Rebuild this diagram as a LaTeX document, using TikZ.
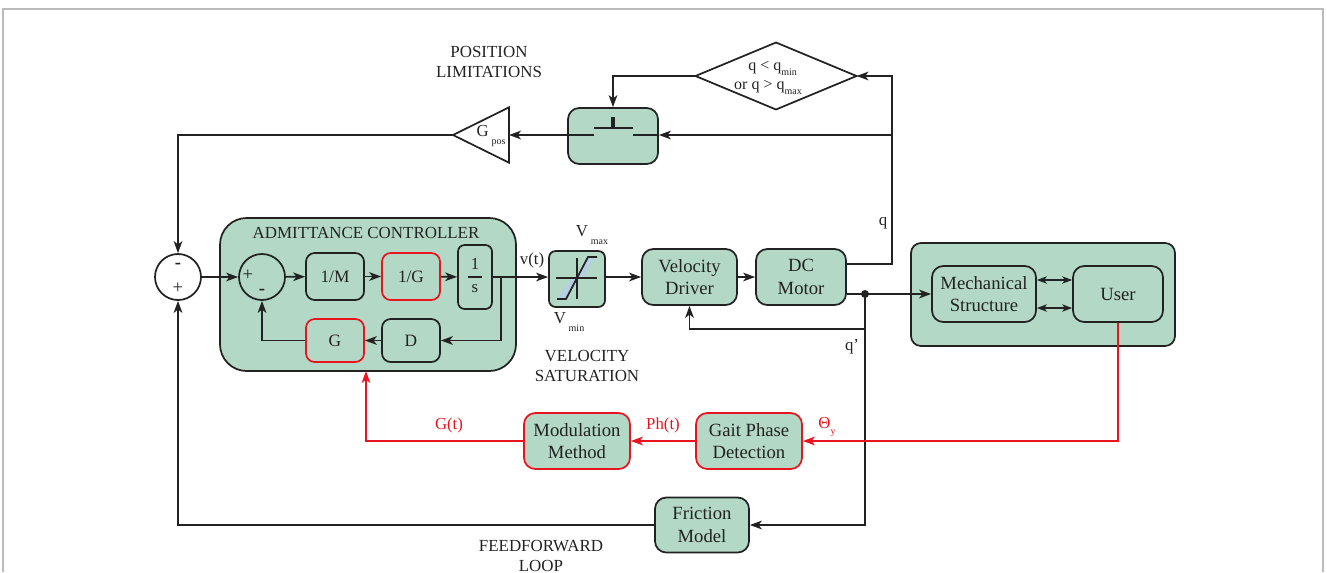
\documentclass[tikz,border=0pt]{standalone}
\usepackage{fontspec}
\setmainfont{Liberation Serif}
\usetikzlibrary{arrows.meta, positioning, shapes.geometric, calc}
\definecolor{boxgreen}{HTML}{B3D9C6}
\definecolor{inkgray}{HTML}{222222}
\definecolor{gatered}{HTML}{E8141F}
\definecolor{framegray}{HTML}{BBBBBB}
\definecolor{rampblue}{HTML}{B5CFE3}
\newcommand{\lowtext}[1]{\raisebox{-.7ex}{\fontsize{7.5}{8}\selectfont #1}}
\newcommand{\lowertext}[1]{\,\raisebox{-1.1ex}{\fontsize{7.5}{8}\selectfont #1}}

\begin{document}
\begin{tikzpicture}[
    x=0.75pt, y=-0.75pt,
    every node/.style={text=inkgray, font=\fontsize{12.6}{15}\selectfont},
    block/.style={rectangle, draw=inkgray, fill=boxgreen, line width=1.3pt, rounded corners=8.5pt, align=center, inner sep=0pt, font=\fontsize{14}{17}\selectfont},
    smallblock/.style={block, rounded corners=6.5pt, font=\fontsize{13}{15}\selectfont},
    redblock/.style={block, draw=gatered},
    sumnode/.style={circle, draw=inkgray, line width=1.3pt, minimum size=34.5pt, inner sep=0pt},
    signnode/.style={font=\fontsize{14}{15}\selectfont, inner sep=0pt},
    conn/.style={draw=inkgray, line width=1.3pt, -{Stealth[length=9pt, width=6.5pt, inset=2.5pt]}},
    plain/.style={draw=inkgray, line width=1.3pt},
    twoway/.style={draw=inkgray, line width=1pt, {Stealth[length=7.5pt, width=5.5pt, inset=2pt]}-{Stealth[length=7.5pt, width=5.5pt, inset=2pt]}},
    redconn/.style={conn, draw=gatered, color=gatered},
    redlabel/.style={text=gatered},
    caption/.style={align=center, font=\fontsize{12.7}{15.4}\selectfont}
]
    \useasboundingbox (0,0) rectangle (1327,572);
    % page frame
    \draw[framegray, line width=0.9pt] (3,572) -- (3,9) -- (1323,9) -- (1323,572);

    % admittance controller
    \node[block, rounded corners=20pt, minimum width=222pt, minimum height=114.75pt] (admit) at (368,294.5) {};
    \node[caption] (admittitle) at (366,233) {ADMITTANCE CONTROLLER};
    \node[sumnode] (sumouter) at (178,277) {};
    \node[sumnode] (suminner) at (262,277) {};
    \node[signnode] (sumoutera) at (178,266) {\textbf{-}};
    \node[signnode] (sumouterb) at (178,288) {+};
    \node[signnode] (suminnera) at (248,275) {+};
    \node[signnode] (suminnerb) at (262,292) {\textbf{-}};
    \node[smallblock, minimum width=43.5pt, minimum height=35.25pt] (invm) at (335,276.5) {1/M};
    \node[smallblock, draw=gatered, minimum width=43.5pt, minimum height=35.25pt] (invg) at (411,276.5) {1/G};
    \node[smallblock, rounded corners=5pt, minimum width=25.5pt, minimum height=48pt] (integ) at (475,277) {};
    \node (integnum) at (475,264) {1};
    \node (integden) at (475,289) {s};
    \draw[plain] (468,277) -- (482,277);
    \node[smallblock, draw=gatered, minimum width=43.5pt, minimum height=32.25pt] (gain) at (335,340.5) {G};
    \node[smallblock, minimum width=43.5pt, minimum height=32.25pt] (damp) at (411,340.5) {D};

    % saturation and drive
    \node[smallblock, rounded corners=5pt, minimum width=42pt, minimum height=42pt] (sat) at (577,279) {};
    \fill[rampblue] (558,298) -- (567,298) -- (577,279) -- (571,279) -- cycle;
    \fill[rampblue] (577,279) -- (588,258) -- (594,258) -- (583,279) -- cycle;
    \draw[plain] (556,278) -- (597,278);
    \draw[plain] (577,258) -- (577,299);
    \draw[plain] (557,299) -- (566,299) -- (588,257) -- (597,257);
    \node[block, minimum width=71.25pt, minimum height=42pt] (driver) at (689.5,277) {Velocity\\Driver};
    \node[block, minimum width=67.5pt, minimum height=42pt] (motor) at (801,277) {DC\\Motor};
    \node (vmax) at (592,235) {V\lowertext{max}};
    \node (vmin) at (569,322) {V\lowertext{min}};
    \node (vt) at (532,260) {v(t)};
    \node[caption] (satcap) at (587,366) {VELOCITY\\SATURATION};

    % mechanics
    \node[block, rounded corners=7.5pt, minimum width=198pt, minimum height=77.25pt] (plant) at (1043,294.5) {};
    \node[block, minimum width=78pt, minimum height=42pt] (mech) at (984,294) {Mechanical\\Structure};
    \node[block, minimum width=67.5pt, minimum height=42pt] (user) at (1118,294) {User};

    % position limitations
    \node[block, minimum width=67.5pt, minimum height=42pt] (switch) at (613,136) {};
    \node[diamond, draw=inkgray, line width=1.3pt, minimum width=120.75pt, minimum height=50.25pt, inner sep=0pt, outer sep=0pt] (limit) at (776,76) {};
    \node[align=center, font=\fontsize{12}{14.2}\selectfont] (limittext) at (768,78) {\hspace*{7pt}q < q\lowtext{min}\\or q > q\lowtext{max}};
    \node[isosceles triangle, shape border rotate=180, isosceles triangle stretches, draw=inkgray, line width=1.3pt, minimum width=41.5pt, minimum height=42pt, inner sep=0pt, outer sep=0pt, anchor=apex] (gainpos) at (453,135) {};
    \node (gainposlabel) at (491,136) {G\lowertext{pos}};
    \node[caption] (poscap) at (489,62) {POSITION\\LIMITATIONS};
    \draw[plain] (568,135) -- (594,135);
    \draw[plain] (633,135) -- (658,135);
    \draw[plain] (594,128) -- (633,128);
    \draw[inkgray, line width=2.6pt] (613,117) -- (613,128);

    % lower blocks
    \node[redblock, minimum width=79.5pt, minimum height=42pt] (gait) at (749,441) {Gait Phase\\Detection};
    \node[redblock, minimum width=79.5pt, minimum height=42pt] (modul) at (577,441) {Modulation\\Method};
    \node[block, minimum width=70.5pt, minimum height=41.25pt] (friction) at (702,525) {Friction\\Model};
    \node[caption] (ffcap) at (541,556) {FEEDFORWARD\\LOOP};

    % junctions and labels
    \coordinate (qbend) at (892,135);
    \coordinate (qdotnode) at (865,294);
    \coordinate (qvel) at (865,329);
    \coordinate (vtap) at (501,277);
    \coordinate (gaintap) at (366,371);
    \fill[inkgray] (qdotnode) circle (4);
    \node (qlabel) at (883,223) {q};
    \node (qdlabel) at (852,347) {q’};
    \node[redlabel] (gtlabel) at (449,425) {G(t)};
    \node[redlabel] (phlabel) at (663,425) {Ph(t)};
    \node[redlabel] (thetalabel) at (827,427) {Θ\lowtext{y}};

    % connectors
    \draw[conn] (sumouter) -- (suminner);
    \draw[conn] (suminner) -- (invm);
    \draw[conn] (invm) -- (invg);
    \draw[conn] (invg) -- (integ);
    \draw[conn] (integ.east) -- (integ.east -| sat.west);
    \draw[conn] (vtap) |- (damp);
    \draw[conn] (damp) -- (gain);
    \draw[conn] (gain) -| (suminner);
    \draw[conn] (sat.east |- driver.west) -- (driver.west);
    \draw[conn] (driver) -- (motor);
    \draw[plain] ([yshift=9.75pt]motor.east) -| (qbend);
    \draw[conn] (qbend) |- (limit.east);
    \draw[conn] (qbend) -- (switch.east |- qbend);
    \draw[conn] (limit.west) -| (switch.north);
    \draw[conn] (switch.west |- qbend) -- (gainpos.lower side |- qbend);
    \draw[conn] (gainpos.apex) -| (sumouter.north);
    \draw[conn] ([yshift=-12.75pt]motor.east) -- (mech.west |- qdotnode);
    \draw[twoway] ([yshift=10.5pt]mech.east) -- ([yshift=10.5pt]user.west);
    \draw[twoway] ([yshift=-10.5pt]mech.east) -- ([yshift=-10.5pt]user.west);
    \draw[conn] (qvel) -| (driver.south);
    \draw[conn] (qdotnode) |- (friction.east);
    \draw[conn] (friction.west) -| (sumouter.south);
    \draw[redconn] (user.south) |- (gait.east);
    \draw[redconn] (gait) -- (modul);
    \draw[redconn] (modul.west) -| (gaintap);
\end{tikzpicture}
\end{document}
